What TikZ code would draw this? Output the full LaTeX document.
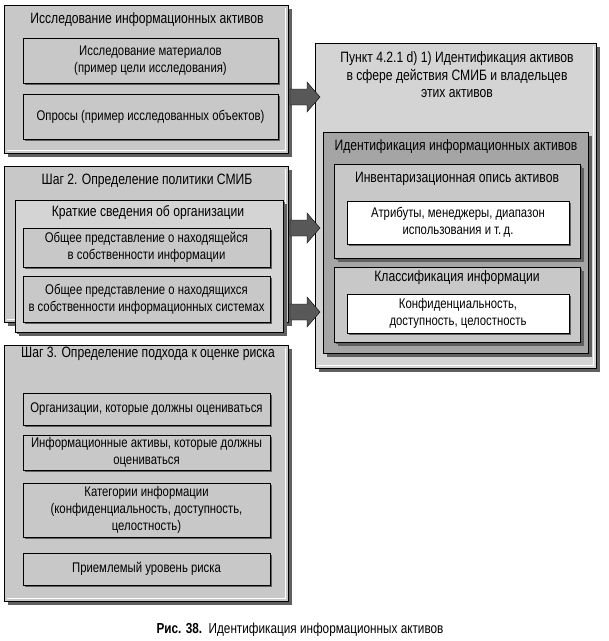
\documentclass[tikz,border=0pt]{standalone}
\usepackage{fontspec}
\setmainfont{Liberation Sans}[FakeStretch=0.81]
\usetikzlibrary{shadows}
\definecolor{cus-box}{RGB}{200,200,200}
\definecolor{cus-light}{RGB}{212,212,212}
\definecolor{cus-mid}{RGB}{165,165,165}
\definecolor{cus-shadow}{RGB}{96,96,96}
\definecolor{cus-arrow}{RGB}{88,88,88}
\tikzset{
	outerbox/.style={draw=black, fill=cus-box, anchor=north west, inner sep=0pt,
		drop shadow={shadow xshift=4pt, shadow yshift=-4pt, fill=cus-shadow, opacity=1}},
	innerbox/.style={draw=black, fill=cus-box, align=center, inner sep=0pt,
		font=\fontsize{14}{17}\selectfont,
		drop shadow={shadow xshift=2pt, shadow yshift=-2pt, fill=cus-shadow, opacity=1}},
	whitebox/.style={innerbox, fill=white},
	boxtitle/.style={align=center, inner sep=1pt, font=\fontsize{15}{17.5}\selectfont}
}

\begin{document}
\begin{tikzpicture}[x=1pt, y=-1pt]
\useasboundingbox (0,0) rectangle (609,641);

% big boxes
\node[outerbox, minimum width=284pt, minimum height=148pt] (inv) at (4,5) {};
\node[outerbox, minimum width=284pt, minimum height=156pt] (pol) at (4,166) {};
\node[outerbox, minimum width=284pt, minimum height=256pt] (risk) at (4,345) {};
\node[outerbox, fill=cus-light, minimum width=281pt, minimum height=325pt] (pt) at (315,43) {};

% light inner edge
\foreach \b in {inv,pol,risk,pt}{
	\draw[white, line width=0.8pt] ([shift={(-3,3)}]\b.north east) -- ([shift={(-3,-3)}]\b.south east) -- ([shift={(3,-3)}]\b.south west);
}

% step 1
\node[boxtitle] (invt) at (147,20) {Исследование информационных активов};
\node[innerbox, minimum width=255pt, minimum height=45pt] (mat) at (150.5,60.5) {Исследование материалов\\(пример цели исследования)};
\node[innerbox, minimum width=255pt, minimum height=45pt] (opr) at (150.5,116.5) {Опросы (пример исследованных объектов)};

% step 2
\node[boxtitle] (polt) at (147,181) {Шаг 2. Определение политики СМИБ};
\node[outerbox, fill=cus-light, minimum width=268pt, minimum height=132pt,
	drop shadow={shadow xshift=2pt, shadow yshift=-2pt, fill=cus-shadow, opacity=1}] (org) at (15,200) {};
\node[boxtitle] (orgt) at (148,213) {Краткие сведения об организации};
\node[innerbox, minimum width=247pt, minimum height=39pt] (infa) at (146.5,247.5) {Общее представление о находящейся\\в собственности информации};
\node[innerbox, minimum width=247pt, minimum height=46pt] (infb) at (146.5,299) {Общее представление о находящихся\\в собственности информационных системах};

% step 3
\node[boxtitle] (riskt) at (148,354) {Шаг 3. Определение подхода к оценке риска};
\node[innerbox, minimum width=247pt, minimum height=32pt] (ra) at (146.5,409) {Организации, которые должны оцениваться};
\node[innerbox, minimum width=247pt, minimum height=35pt] (rb) at (146.5,452.5) {Информационные активы, которые должны\\оцениваться};
\node[innerbox, minimum width=247pt, minimum height=54pt] (rc) at (146.5,510) {Категории информации\\(конфиденциальность, доступность,\\целостность)};
\node[innerbox, minimum width=247pt, minimum height=32pt] (rd) at (146.5,569) {Приемлемый уровень риска};

% item 4.2.1
\node[boxtitle] (ptt) at (457,75) {Пункт 4.2.1 d) 1) Идентификация активов\\в сфере действия СМИБ и владельцев\\этих активов};
\node[outerbox, fill=cus-mid, minimum width=265pt, minimum height=221pt] (ident) at (323,132) {};
\node[boxtitle] (identt) at (456,147) {Идентификация информационных активов};
\node[outerbox, minimum width=246pt, minimum height=94pt,
	drop shadow={shadow xshift=2pt, shadow yshift=-2pt, fill=cus-shadow, opacity=1}] (opis) at (334,164) {};
\node[boxtitle] (opist) at (457,179) {Инвентаризационная опись активов};
\node[whitebox, minimum width=222pt, minimum height=43pt] (attr) at (458,222.5) {Атрибуты, менеджеры, диапазон\\использования и т.\,д.};
\node[outerbox, minimum width=246pt, minimum height=75pt,
	drop shadow={shadow xshift=2pt, shadow yshift=-2pt, fill=cus-shadow, opacity=1}] (cls) at (334,267) {};
\node[boxtitle] (clst) at (457,278) {Классификация информации};
\node[whitebox, minimum width=222pt, minimum height=39pt] (conf) at (458,313.5) {Конфиденциальность,\\доступность, целостность};

% arrows
\foreach \y in {97,228,312}{
	\begin{scope}[shift={(290,\y)}]
	\draw[fill=cus-arrow] (0,-8) -- (17,-8) -- (17,-15) -- (30,0) -- (17,15) -- (17,8) -- (0,8) -- cycle;
	\end{scope}
}

\node[font=\fontsize{14.5}{17}\selectfont] (cap) at (300,630) {\textbf{Рис. 38.}\ \ Идентификация информационных активов};
\end{tikzpicture}
\end{document}
